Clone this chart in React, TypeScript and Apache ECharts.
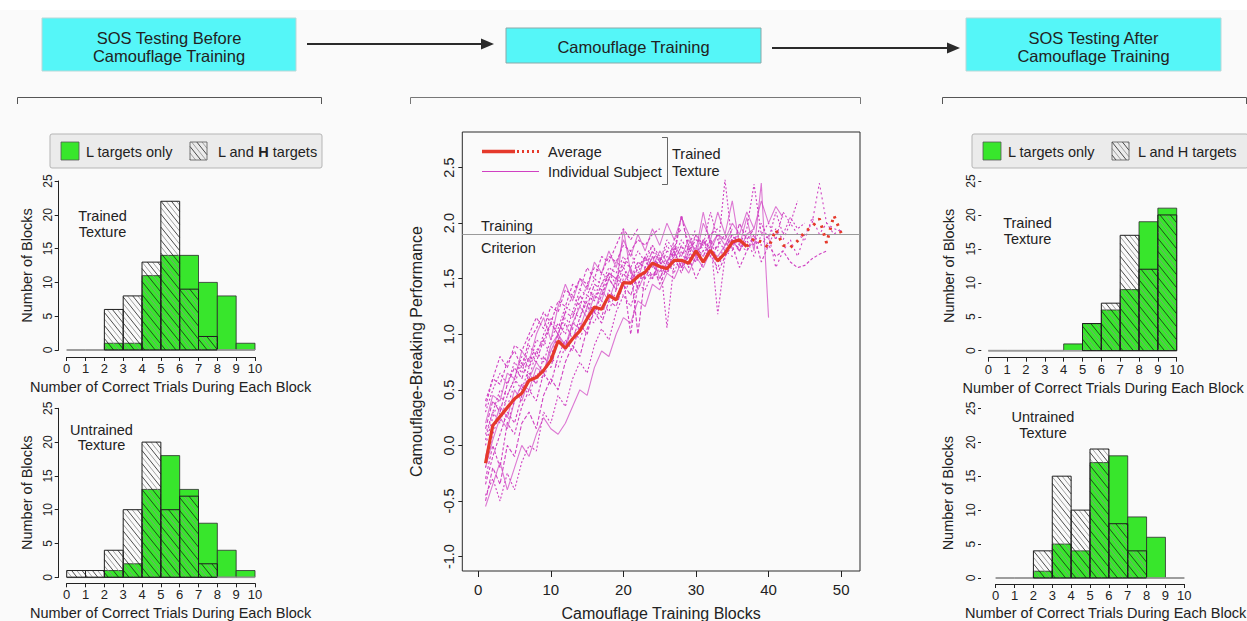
import React, { useEffect, useRef } from "react";
import * as echarts from "echarts";

// ---------- DATA ----------
const BIN_EDGES = [0, 1, 2, 3, 4, 5, 6, 7, 8, 9, 10];
const HIST_Y_TICKS = [0, 5, 10, 15, 20, 25];

const PRE_TRAINED_L = [0, 0, 1, 1, 11, 14, 14, 10, 8, 1];
const PRE_TRAINED_LH = [0, 0, 6, 8, 13, 22, 9, 2, 0, 0];
const PRE_UNTRAINED_L = [0, 0, 1, 2, 13, 18, 13, 8, 4, 1];
const PRE_UNTRAINED_LH = [1, 1, 4, 10, 20, 10, 12, 2, 0, 0];
const POST_TRAINED_L = [0, 0, 0, 0, 1, 4, 6, 9, 19, 21];
const POST_TRAINED_LH = [0, 0, 0, 0, 0, 4, 7, 17, 12, 20];
const POST_UNTRAINED_L = [0, 0, 1, 5, 4, 17, 18, 9, 6, 0];
const POST_UNTRAINED_LH = [0, 0, 4, 15, 10, 19, 8, 4, 0, 0];

const MAIN_X_TICKS = [0, 10, 20, 30, 40, 50];
const MAIN_Y_TICKS = [-1, -0.5, 0, 0.5, 1, 1.5, 2, 2.5];
const CRITERION = 1.9;

// average, blocks 1..37 (solid) and 38..50 (dotted)
const AVERAGE_SOLID = [
  -0.16, 0.18, 0.26, 0.34, 0.42, 0.47, 0.585, 0.61, 0.675, 0.765,
  0.94, 0.875, 0.96, 1.03, 1.14, 1.245, 1.225, 1.35, 1.31, 1.465,
  1.46, 1.52, 1.56, 1.64, 1.61, 1.59, 1.665, 1.665, 1.64, 1.75,
  1.65, 1.755, 1.66, 1.73, 1.83, 1.85, 1.79,
];
const AVERAGE_DOTTED = [1.86, 1.83, 1.78, 1.94, 1.8, 1.78, 1.84, 1.92, 1.97, 2.04, 1.82, 2.07, 1.91];

const SUB_A = [0.35, 0.6, 0.55, 0.75, 0.85, 0.7, 0.95, 1.05, 1.2, 1.1, 1.3, 1.25, 1.45, 1.4, 1.6, 1.5, 1.7, 1.65, 1.8, 1.95, 1.85, 1.95];
const SUB_B = [0.1, 0.3, 0.5, 0.45, 0.6, 0.8, 0.7, 0.95, 0.9, 1.1, 1.0, 1.2, 1.35, 1.25, 1.45, 1.3, 1.55, 1.5, 1.65, 1.6, 1.75, 1.55, 1.7, 1.8, 1.65, 1.85, 1.75, 2.07, 1.8, 1.95];
const SUB_C = [-0.2, 0.05, 0.25, 0.15, 0.4, 0.55, 0.5, 0.7, 0.65, 0.9, 1.0, 0.85, 1.1, 1.05, 1.25, 1.2, 1.4, 1.3, 1.5, 1.45, 1.6, 1.4, 1.55, 1.7, 1.5, 1.65, 1.75, 1.6, 1.8, 1.7, 1.85, 1.75, 1.9, 1.8, 1.95];
const SUB_D = [-0.5, -0.2, -0.35, 0.0, -0.1, 0.2, 0.3, 0.15, 0.45, 0.6, 0.5, 0.75, 0.9, 0.8, 1.05, 1.2, 1.1, 1.3, 1.25, 1.45, 1.35, 1.55, 1.5, 1.65, 1.45, 1.6, 1.7, 1.55, 1.75, 1.65, 1.85, 1.7, 1.8, 1.9, 1.75, 2.0, 1.85, 1.95];
const SUB_E = [0.0, 0.25, 0.45, 0.35, 0.55, 0.75, 0.6, 0.85, 0.95, 0.8, 1.0, 1.15, 1.05, 1.3, 1.2, 1.4, 1.35, 1.55, 1.5, 1.6, 1.45, 1.65, 1.6, 1.75, 1.55, 1.7, 1.65, 1.8, 1.6, 1.75, 1.7, 1.85, 1.65, 1.8, 1.9, 1.75, 1.85, 1.7, 1.9, 1.8, 1.95, 1.85, 2.0, 1.9, 1.85, 2.05, 1.9, 2.0, 1.95, 1.93];
const SUB_F = [-0.35, -0.1, 0.1, 0.3, 0.2, 0.45, 0.65, 0.55, 0.8, 0.7, 0.95, 1.1, 0.95, 1.15, 1.3, 1.2, 1.35, 1.5, 1.4, 1.55, 1.45, 1.6, 1.7, 1.5, 1.65, 1.55, 1.75, 1.6, 1.7, 1.5, 1.65, 1.8, 1.55, 1.7, 1.8, 1.6, 1.75, 1.9, 1.65, 1.8, 1.7, 1.75, 1.65, 1.6, 1.62, 1.68, 1.72, 1.75];
const SUB_G = [0.2, 0.45, 0.4, 0.65, 0.6, 0.85, 0.75, 1.0, 1.15, 0.95, 1.25, 1.45, 1.3, 1.5, 1.4, 1.65, 1.55, 1.75, 1.6, 1.85, 1.7, 1.9, 1.75, 1.95, 1.8, 2.0, 1.85, 2.05, 1.9, 1.7, 2.0, 1.85, 2.1, 1.9, 2.2, 1.8, 2.05, 1.75, 2.36, 1.15];
const SUB_H = [-0.45, -0.3, -0.5, -0.25, -0.4, -0.15, 0.0, -0.05, 0.3, 0.2, 0.45, 0.35, 0.6, 0.75, 0.65, 0.9, 1.05, 0.95, 1.2, 1.35, 1.25, 1.45, 1.4, 1.55, 1.5, 1.65, 1.55, 1.75, 1.6, 1.8, 1.7, 1.85, 1.75, 2.39, 1.8, 1.9];
const SUB_I = [-0.3, 0.0, -0.2, 0.2, 0.1, 0.35, 0.5, 0.4, 0.65, 0.55, 0.8, 0.95, 0.85, 1.1, 1.0, 1.25, 1.15, 1.4, 1.3, 1.5, 1.0, 1.45, 1.6, 1.5, 1.7, 1.6, 1.85, 1.95];
const SUB_J = [0.3, 0.5, 0.65, 0.55, 0.75, 0.65, 0.9, 0.8, 1.0, 1.15, 1.05, 1.25, 1.2, 1.4, 1.35, 1.5, 1.45, 1.6, 1.55, 1.7, 1.6, 1.75, 1.65, 1.8, 1.7, 1.06, 1.65, 1.8, 1.7, 1.9, 1.75, 1.85, 1.18, 1.7, 1.85, 1.75, 1.9, 1.8, 2.0, 1.85, 2.1, 1.9, 2.05, 1.95, 2.0];
const SUB_K = [-0.1, 0.15, 0.35, 0.25, 0.5, 0.4, 0.6, 0.75, 0.65, 0.85, 1.0, 0.9, 1.1, 1.25, 1.15, 1.35, 1.3, 1.5, 1.4, 1.95, 1.55, 1.5, 1.7, 1.6, 1.75, 1.65, 1.8, 1.7, 1.85, 1.75, 2.1, 1.8, 1.9, 1.85, 2.0, 1.9, 2.1, 1.95, 2.2, 2.0, 2.15, 2.05];
const SUB_L = [0.15, 0.4, 0.3, 0.55, 0.7, 0.6, 0.8, 0.75, 0.95, 1.1, 1.0, 1.2, 1.15, 1.35, 1.25, 1.45, 1.4, 1.55, 1.5, 1.65, 1.6, 1.0, 1.55, 1.7, 1.6, 1.75, 1.7, 2.07, 1.75, 1.85, 1.8, 1.9, 1.95];
const SUB_M = [-0.2, 0.1, 0.3, 0.2, 0.4, 0.55, 0.45, 0.65, 0.6, 0.8, 0.7, 0.9, 1.05, 0.95, 1.15, 1.1, 1.3, 1.2, 1.4, 1.35, 1.5, 1.45, 1.55, 1.5, 1.6, 1.55, 1.65, 1.6, 1.7, 1.65, 1.75, 1.7, 1.6, 1.75, 1.7, 1.8, 1.75, 1.85, 1.8, 1.9, 1.6, 1.75, 1.85, 1.7, 1.9, 2.0, 2.36, 2.0, 1.9, 1.95];
const SUB_N = [0.4, 0.6, 0.8, 0.7, 0.9, 0.85, 1.0, 1.15, 1.05, 1.25, 1.2, 1.4, 1.35, 1.5, 1.45, 1.6, 1.55, 1.7, 1.65, 1.8, 1.75, 1.85, 1.8, 1.9, 1.95];
const SUB_O = [-0.55, -0.35, -0.15, -0.4, -0.2, 0.0, -0.1, 0.1, 0.25, 0.15, 0.1, 0.2, 0.35, 0.5, 0.45, 0.7, 0.85, 0.8, 1.0, 1.15, 1.1, 1.3, 1.25, 1.45, 1.4, 1.55, 1.5, 1.65, 1.55, 1.7, 1.6, 1.75, 1.7, 1.8, 1.85, 1.75, 1.9, 1.95];
const SUB_P = [0.05, 0.3, 0.2, 0.45, 0.6, 0.5, 0.7, 0.85, 0.75, 0.95, 1.1, 1.0, 1.2, 1.15, 1.35, 1.3, 1.45, 1.55, 1.45, 1.6, 1.5, 1.65, 1.6, 1.75, 1.65, 1.8, 1.7, 1.85, 1.75, 1.9, 1.8, 2.1, 1.85, 1.75, 1.9, 1.8, 1.95, 2.35, 1.9, 2.0, 1.85, 2.1, 2.0, 2.2];
const SUBJECTS = [SUB_A, SUB_B, SUB_C, SUB_D, SUB_E, SUB_F, SUB_G, SUB_H, SUB_I, SUB_J, SUB_K, SUB_L, SUB_M, SUB_N, SUB_O, SUB_P];

// ---------- STYLE ----------
const FONT = "'Liberation Sans', Arial, Helvetica, sans-serif";
const GREEN = "#38e62c";
const RED = "#e5392b";
const MAGENTA = "#d040c2";
const CYAN = "#55f6f8";
const INK = "#222";

function hatchLines(x0: number, y0: number, x1: number, y1: number) {
  const step = 6.5;
  const slope = 1.25;
  const out: any[] = [];
  const kMin = Math.floor((y0 - slope * x1) / step) * step;
  const kMax = y1 - slope * x0;
  for (let k = kMin; k <= kMax; k += step) {
    const xa = Math.max(x0, (y0 - k) / slope);
    const xb = Math.min(x1, (y1 - k) / slope);
    if (xb - xa > 0.3) {
      const idx = Math.abs(Math.round(k / step));
      out.push({
        type: "line",
        silent: true,
        shape: { x1: xa, y1: slope * xa + k, x2: xb, y2: slope * xb + k },
        style: { stroke: idx % 2 ? "#8c8c8c" : "#1e1e1e", lineWidth: 0.8 },
      });
    }
  }
  return out;
}

function binRows(vals: number[]) {
  return vals.map((v, i) => [BIN_EDGES[i], BIN_EDGES[i + 1], v]);
}

function makeRender(kind: "green" | "hatch") {
  return (params: any, api: any) => {
    const a = api.value(0);
    const b = api.value(1);
    const v = api.value(2);
    const p0 = api.coord([a, 0]);
    const p1 = api.coord([b, v]);
    const x0 = p0[0];
    const x1 = p1[0];
    const yb = p0[1];
    const yt = p1[1];
    if (v === 0) {
      return {
        type: "line",
        shape: { x1: x0, y1: yb, x2: x1, y2: yb },
        style: { stroke: "#9a9a9a", lineWidth: 1.6 },
      };
    }
    if (kind === "green") {
      return {
        type: "rect",
        shape: { x: x0, y: yt, width: x1 - x0, height: yb - yt },
        style: { fill: GREEN, stroke: "#2b2b2b", lineWidth: 0.8 },
      };
    }
    return {
      type: "group",
      children: [
        ...hatchLines(x0, yt, x1, yb),
        {
          type: "rect",
          shape: { x: x0, y: yt, width: x1 - x0, height: yb - yt },
          style: { fill: "none", stroke: "#1e1e1e", lineWidth: 1 },
        },
      ],
    };
  };
}

const PANELS = [
  { left: 66.7, top: 181, width: 188.3, height: 169, yOff: 8, xOff: 7, yLine: true, gap: 24, green: PRE_TRAINED_L, hatch: PRE_TRAINED_LH },
  { left: 66.7, top: 408.3, width: 188.3, height: 169, yOff: 8, xOff: 6, yLine: true, gap: 24, green: PRE_UNTRAINED_L, hatch: PRE_UNTRAINED_LH },
  { left: 988.3, top: 181, width: 188.4, height: 169.7, yOff: 7, xOff: 7, yLine: false, gap: 25, green: POST_TRAINED_L, hatch: POST_TRAINED_LH },
  { left: 995.7, top: 408.3, width: 188.6, height: 169.7, yOff: 14.7, xOff: 6, yLine: false, gap: 25.5, green: POST_UNTRAINED_L, hatch: POST_UNTRAINED_LH },
];

function txt(text: string, x: number, y: number, size = 14.5, align = "left", extra: any = {}) {
  return {
    type: "text",
    x,
    y,
    silent: true,
    style: { text, fill: INK, font: `${size}px ${FONT}`, textAlign: align, textVerticalAlign: "middle", ...extra },
  };
}

function legendBox(x: number, w: number, boldH: boolean) {
  const hx = x + 140;
  return [
    { type: "rect", shape: { x, y: 134, width: w, height: 34, r: 2 }, style: { fill: "#ebebeb", stroke: "#b5b5b5", lineWidth: 1 } },
    { type: "rect", shape: { x: x + 11, y: 142, width: 18, height: 18 }, style: { fill: GREEN, stroke: "#555", lineWidth: 0.8 } },
    txt("L targets only", x + 36, 151.5),
    {
      type: "group",
      children: [
        ...hatchLines(hx, 142, hx + 17, 160),
        { type: "rect", shape: { x: hx, y: 142, width: 17, height: 18 }, style: { fill: "none", stroke: "#555", lineWidth: 0.8 } },
      ],
    },
    boldH
      ? {
          type: "text",
          x: hx + 28,
          y: 151.5,
          style: {
            text: "{n|L and }{b|H}{n| targets}",
            textVerticalAlign: "middle",
            rich: {
              n: { font: `14.5px ${FONT}`, fill: INK },
              b: { font: `bold 14.5px ${FONT}`, fill: INK },
            },
          },
        }
      : txt("L and H targets", hx + 26, 151.5),
  ];
}

function buildOption() {
  const grids: any[] = [];
  const xAxes: any[] = [];
  const yAxes: any[] = [];
  const series: any[] = [];

  const histAxes = (p: any, gi: number) => {
    xAxes.push({
      type: "value",
      gridIndex: gi,
      min: 0,
      max: 10,
      interval: 1,
      offset: p.xOff,
      axisLine: { show: true, onZero: false, lineStyle: { color: INK, width: 1 } },
      axisTick: { show: true, length: 4, lineStyle: { color: INK } },
      axisLabel: { fontSize: 13, color: INK, margin: 5, fontFamily: FONT },
      splitLine: { show: false },
    });
    yAxes.push({
      type: "value",
      gridIndex: gi,
      min: HIST_Y_TICKS[0],
      max: HIST_Y_TICKS[HIST_Y_TICKS.length - 1],
      interval: 5,
      offset: p.yOff,
      axisLine: { show: p.yLine, onZero: false, lineStyle: { color: INK, width: 1 } },
      axisTick: { show: true, length: p.yLine ? 4 : 3, lineStyle: { color: INK } },
      axisLabel: { fontSize: 12, color: INK, margin: p.yLine ? 5 : 4, rotate: 90, fontFamily: FONT },
      splitLine: { show: false },
      name: "Number of Blocks",
      nameLocation: "middle",
      nameGap: p.gap,
      nameTextStyle: { fontSize: 14.5, color: INK, fontFamily: FONT },
    });
  };

  const order = [0, 1, -1, 2, 3];
  order.forEach((pi, gi) => {
    if (pi === -1) {
      grids.push({ left: 462.3, top: 132, width: 397.7, height: 439, show: true, borderColor: "#2a2a2a", borderWidth: 1, backgroundColor: "transparent", outerBoundsMode: "none", containLabel: false });
      xAxes.push({
        type: "value",
        gridIndex: gi,
        min: -2.2,
        max: 52.6,
        axisLine: { show: false, onZero: false },
        axisTick: { show: true, length: 6, customValues: MAIN_X_TICKS, lineStyle: { color: INK } },
        axisLabel: { customValues: MAIN_X_TICKS, fontSize: 15, color: INK, margin: 11, fontFamily: FONT },
        splitLine: { show: false },
        name: "Camouflage Training Blocks",
        nameLocation: "middle",
        nameGap: 34,
        nameTextStyle: { fontSize: 16, color: INK, fontFamily: FONT },
      });
      yAxes.push({
        type: "value",
        gridIndex: gi,
        min: -1.13,
        max: 2.82,
        axisLine: { show: false, onZero: false },
        axisTick: { show: true, length: 4, customValues: MAIN_Y_TICKS, lineStyle: { color: INK } },
        axisLabel: { customValues: MAIN_Y_TICKS, fontSize: 14.5, color: INK, margin: 6, rotate: 90, fontFamily: FONT, formatter: (v: number) => v.toFixed(1) },
        splitLine: { show: false },
        name: "Camouflage-Breaking Performance",
        nameLocation: "middle",
        nameGap: 38,
        nameTextStyle: { fontSize: 16, color: INK, fontFamily: FONT },
      });
    } else {
      const p = PANELS[pi];
      grids.push({ left: p.left, top: p.top, width: p.width, height: p.height, show: false, outerBoundsMode: "none", containLabel: false });
      histAxes(p, gi);
      series.push({
        type: "custom",
        xAxisIndex: gi,
        yAxisIndex: gi,
        silent: true,
        renderItem: makeRender("green"),
        encode: { x: [0, 1], y: 2 },
        data: binRows(p.green),
        z: 2,
      });
      series.push({
        type: "custom",
        xAxisIndex: gi,
        yAxisIndex: gi,
        silent: true,
        renderItem: makeRender("hatch"),
        encode: { x: [0, 1], y: 2 },
        data: binRows(p.hatch),
        z: 3,
      });
    }
  });

  const dashes: any[] = [[3, 2], [2, 2], "solid", [4, 2], [2, 3], [3, 2], "solid", [2, 2]];
  SUBJECTS.forEach((vals, i) => {
    const solid = dashes[i % dashes.length] === "solid";
    series.push({
      type: "line",
      xAxisIndex: 2,
      yAxisIndex: 2,
      silent: true,
      showSymbol: false,
      symbol: "none",
      data: vals.map((v, j) => [j + 1, v]),
      lineStyle: { color: MAGENTA, width: 1.1, type: dashes[i % dashes.length], opacity: solid ? 0.7 : 1 },
      z: 2,
    });
  });

  series.push({
    type: "line",
    xAxisIndex: 2,
    yAxisIndex: 2,
    silent: true,
    showSymbol: false,
    symbol: "none",
    data: AVERAGE_SOLID.map((v, j) => [j + 1, v]),
    lineStyle: { color: RED, width: 3.2 },
    z: 5,
    markLine: {
      silent: true,
      symbol: "none",
      label: { show: false },
      lineStyle: { color: "#9a9a9a", type: "solid", width: 1 },
      data: [{ yAxis: CRITERION }],
    },
  });
  const dottedStart = AVERAGE_SOLID.length;
  series.push({
    type: "line",
    xAxisIndex: 2,
    yAxisIndex: 2,
    silent: true,
    showSymbol: false,
    symbol: "none",
    data: [[dottedStart, AVERAGE_SOLID[dottedStart - 1]], ...AVERAGE_DOTTED.map((v, j) => [dottedStart + j + 1, v])],
    lineStyle: { color: RED, width: 3, type: [2.5, 5.5] },
    z: 5,
  });

  const graphic: any[] = [
    { type: "rect", shape: { x: 0, y: 0, width: 1247, height: 10 }, style: { fill: "#ffffff" }, silent: true },
    // flow boxes
    { type: "rect", shape: { x: 42, y: 18, width: 254, height: 53 }, style: { fill: CYAN, stroke: "#b8d8d8", lineWidth: 1 } },
    txt("SOS Testing Before", 169, 37.5, 16.5, "center"),
    txt("Camouflage Training", 169, 56, 16.5, "center"),
    { type: "rect", shape: { x: 506, y: 28, width: 255, height: 35 }, style: { fill: CYAN, stroke: "#8aa8a8", lineWidth: 1 } },
    txt("Camouflage Training", 633.5, 47, 16.5, "center"),
    { type: "rect", shape: { x: 966, y: 18, width: 255, height: 53 }, style: { fill: CYAN, stroke: "#b8d8d8", lineWidth: 1 } },
    txt("SOS Testing After", 1093.5, 37.5, 16.5, "center"),
    txt("Camouflage Training", 1093.5, 56, 16.5, "center"),
    // arrows
    { type: "line", shape: { x1: 307, y1: 44, x2: 484, y2: 44 }, style: { stroke: "#2a2a2a", lineWidth: 2 } },
    { type: "polygon", shape: { points: [[481, 38.5], [494, 44], [481, 49.5]] }, style: { fill: "#2a2a2a" } },
    { type: "line", shape: { x1: 772, y1: 48, x2: 950, y2: 48 }, style: { stroke: "#2a2a2a", lineWidth: 2 } },
    { type: "polygon", shape: { points: [[947, 42.5], [960, 48], [947, 53.5]] }, style: { fill: "#2a2a2a" } },
    // brackets
    { type: "polyline", shape: { points: [[17.5, 104], [17.5, 97.5], [321.5, 97.5], [321.5, 104]] }, style: { stroke: "#555", lineWidth: 1, fill: "none" } },
    { type: "polyline", shape: { points: [[410.5, 104], [410.5, 97.5], [860.5, 97.5], [860.5, 104]] }, style: { stroke: "#777", lineWidth: 1, fill: "none" } },
    { type: "polyline", shape: { points: [[942.5, 104], [942.5, 97.5], [1246.5, 97.5], [1246.5, 104]] }, style: { stroke: "#555", lineWidth: 1, fill: "none" } },
    // histogram legends
    ...legendBox(50, 272, true),
    ...legendBox(972, 276, false),
    // histogram labels
    txt("Trained", 102.5, 216, 14.5, "center"),
    txt("Texture", 102.5, 231.5, 14.5, "center"),
    txt("Untrained", 101.5, 429.5, 14.5, "center"),
    txt("Texture", 101.5, 445, 14.5, "center"),
    txt("Trained", 1027.5, 223, 14.5, "center"),
    txt("Texture", 1027.5, 238.5, 14.5, "center"),
    txt("Untrained", 1043, 417, 14.5, "center"),
    txt("Texture", 1043, 432.5, 14.5, "center"),
    txt("Number of Correct Trials During Each Block", 30, 387, 14.5),
    txt("Number of Correct Trials During Each Block", 30, 613, 14.5),
    txt("Number of Correct Trials During Each Block", 962.5, 388, 14.5),
    txt("Number of Correct Trials During Each Block", 965, 613, 14.5),
    // main legend
    { type: "line", shape: { x1: 482, y1: 151.5, x2: 515, y2: 151.5 }, style: { stroke: RED, lineWidth: 3.5 } },
    { type: "line", shape: { x1: 517, y1: 151.5, x2: 539, y2: 151.5 }, style: { stroke: RED, lineWidth: 3, lineDash: [2, 3] } },
    { type: "line", shape: { x1: 482, y1: 171.5, x2: 539, y2: 171.5 }, style: { stroke: MAGENTA, lineWidth: 1 } },
    txt("Average", 548, 151.5),
    txt("Individual Subject", 548, 172),
    { type: "polyline", shape: { points: [[662, 137.5], [667.5, 137.5], [667.5, 184.5], [662, 184.5]] }, style: { stroke: "#666", lineWidth: 1, fill: "none" } },
    txt("Trained", 672, 154),
    txt("Texture", 672, 171),
    txt("Training", 481, 226),
    txt("Criterion", 481, 248),
  ];

  return {
    animation: false,
    backgroundColor: "#fafafa",
    textStyle: { fontFamily: FONT },
    grid: grids,
    xAxis: xAxes,
    yAxis: yAxes,
    series,
    graphic: { elements: graphic },
  };
}

export default function App() {
  const ref = useRef<HTMLDivElement>(null);
  useEffect(() => {
    if (!ref.current) return;
    const chart = echarts.init(ref.current, undefined, { renderer: "svg" });
    chart.setOption(buildOption() as any);
    return () => chart.dispose();
  }, []);
  return (
    <div
      ref={ref}
      style={{ position: "absolute", left: 0, top: 0, width: 1247, height: 621 }}
    />
  );
}
